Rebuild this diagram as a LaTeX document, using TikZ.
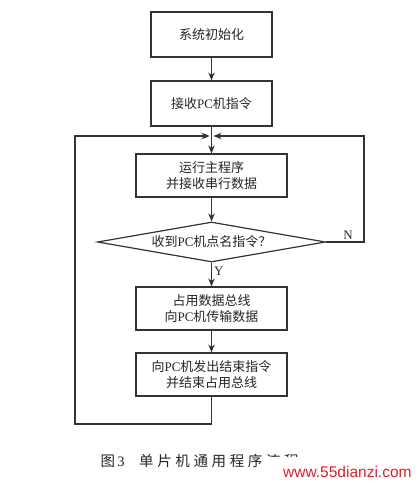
\documentclass[tikz,border=0pt]{standalone}
\usepackage{fontspec}
\setmainfont{Liberation Serif}
\newfontfamily\cjk{Noto Sans CJK SC}
\newfontfamily\capfont[LetterSpace=25]{Noto Sans CJK SC}
\newfontfamily\wmfont{Liberation Sans}
\usetikzlibrary{shapes.geometric, arrows.meta, positioning}
\definecolor{linegray}{HTML}{333333}
\definecolor{textdark}{HTML}{262626}
\definecolor{wmred}{HTML}{E0202A}
\newcommand{\pcname}{{\rmfamily PC}}
\tikzset{
  flowbox/.style={draw=linegray, fill=white, line width=1.2pt,
              minimum width=#1, minimum height=43pt, inner sep=0pt,
              align=center, text=textdark,
              font=\cjk\fontsize{13}{15.5}\selectfont},
  askbox/.style={diamond, draw=linegray, fill=white, line width=1.2pt,
              shape aspect=5.7, minimum width=228pt, minimum height=40pt,
              inner sep=0pt, text=textdark,
              font=\cjk\fontsize{13}{15.5}\selectfont},
  flowarr/.style={-{Stealth[length=8pt, width=6.5pt]}, line width=1.2pt, color=linegray},
  lbl/.style={text=textdark, inner sep=2pt, font=\fontsize{13}{15}\selectfont},
}

\begin{document}
\begin{tikzpicture}[x=1pt, y=-1pt]
  \useasboundingbox (0,0) rectangle (418,484);
  \node[flowbox=121pt, minimum height=45pt] (init) at (211.5,34.5)  {系统初始化};
  \node[flowbox=121pt, minimum height=45pt] (recv) at (211.5,103.5) {接收\pcname 机指令};
  \node[flowbox=151pt] (run)  at (211.5,175.5) {运行主程序\\并接收串行数据};
  \node[askbox]        (ask)  at (211.5,242)   {收到\pcname 机点名指令？};
  \node[flowbox=151pt] (bus)  at (211.5,308.5) {占用数据总线\\向\pcname 机传输数据};
  \node[flowbox=151pt] (stop) at (211.5,374.5) {向\pcname 机发出结束指令\\并结束占用总线};
  \coordinate (join) at (211.5,136);
  \draw[flowarr] (init) -- (recv);
  \draw[flowarr] (recv) -- (run);
  \draw[flowarr] (run) -- (ask);
  \draw[flowarr] (ask) -- node[right, pos=0.36, lbl] {Y} (bus);
  \draw[flowarr] (bus) -- (stop);
  \draw[flowarr, shorten >=2pt] (stop.south) |- (75,424) |- (join);
  \draw[flowarr, shorten >=2pt] (ask.east) -- node[above, pos=0.58, lbl] {N} (364,242) |- (join);
  % caption, half hidden under the site mark
  \node[anchor=west, text=textdark, font=\capfont\fontsize{14.5}{17}\selectfont]
    (cap) at (97,461) {图\,{\rmfamily 3}\quad 单片机通用程序流程};
  \fill[white] (263,457) rectangle (418,484);
  \node[anchor=west, text=wmred, inner sep=0pt, font=\wmfont\fontsize{15.5}{18}\selectfont]
    (mark) at (283,472) {www.55dianzi.com};
\end{tikzpicture}
\end{document}
